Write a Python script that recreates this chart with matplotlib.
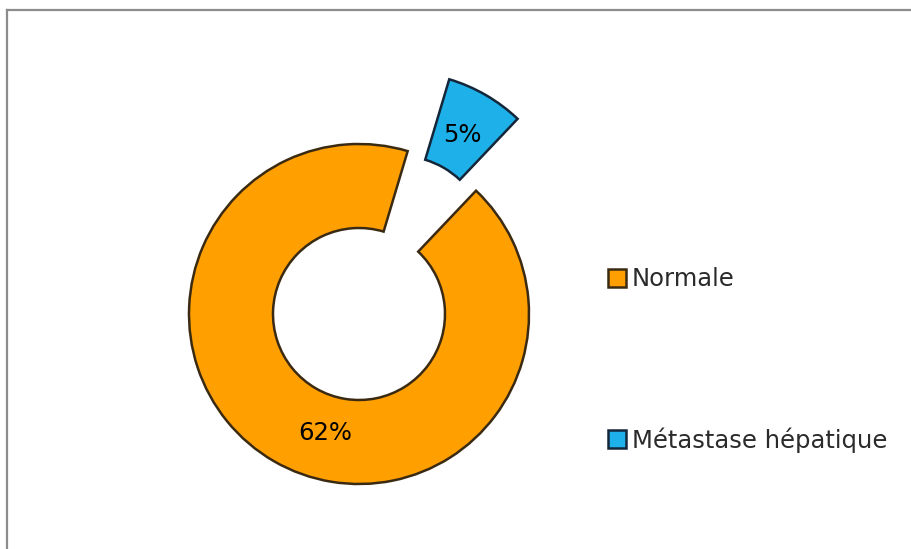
import matplotlib
matplotlib.use("Agg")
import matplotlib.pyplot as plt
from matplotlib.lines import Line2D
import numpy as np

labels = ["Normale", "Métastase hépatique"]
values = [62, 5]
colors = ["#FF9F00", "#1EB0E8"]
edge_colors = ["#3b2a12", "#14263a"]
explode_px = [0, 83]

W, H = 912, 549
fig = plt.figure(figsize=(W / 100, H / 100), dpi=100)
fig.patch.set_facecolor("white")
ax = fig.add_axes([0, 0, 1, 1])

cx, cy = 359, H - 314
radius = 170
ring = 84

# explode is given in data units (pixels here), not as a fraction of the radius
wedges, texts = ax.pie(
    values,
    colors=colors,
    explode=explode_px,
    startangle=46.5,
    counterclock=False,
    center=(cx, cy),
    radius=radius,
    wedgeprops=dict(width=ring, linewidth=1.8),
    frame=True,
)
for w, ec in zip(wedges, edge_colors):
    w.set_edgecolor(ec)

ax.set_xlim(0, W)
ax.set_ylim(0, H)
ax.set_aspect("equal")
ax.axis("off")

# value labels: orange one sits lower-left in the ring, blue one in the detached wedge
label_angles = [-106, None]
for w, val, ang, e in zip(wedges, values, label_angles, explode_px):
    mid = np.deg2rad((w.theta1 + w.theta2) / 2)
    rad = mid if ang is None else np.deg2rad(ang)
    d = 0.73 * radius
    x = cx + d * np.cos(rad) + e * np.cos(mid)
    y = cy + d * np.sin(rad) + e * np.sin(mid)
    ax.text(x, y, f"{val}%", ha="center", va="center", fontsize=17.5, color="black")

leg = ax.legend(
    wedges, labels,
    loc="center left",
    bbox_to_anchor=(598, H - 360),
    bbox_transform=ax.transData,
    frameon=False,
    fontsize=17.5,
    handlelength=0.75,
    handleheight=0.75,
    handletextpad=0.25,
    labelspacing=5.6,
    borderaxespad=0,
)
for t in leg.get_texts():
    t.set_color("#2b2b2b")

# thin grey frame along top and left
fig.add_artist(Line2D([7.5 / W, 1], [1 - 10 / H, 1 - 10 / H], transform=fig.transFigure,
                      color="#8c8c8c", linewidth=1.6))
fig.add_artist(Line2D([7.5 / W, 7.5 / W], [0, 1 - 10 / H], transform=fig.transFigure,
                      color="#8c8c8c", linewidth=1.6))

fig.savefig("out.png", dpi=100, facecolor="white")
